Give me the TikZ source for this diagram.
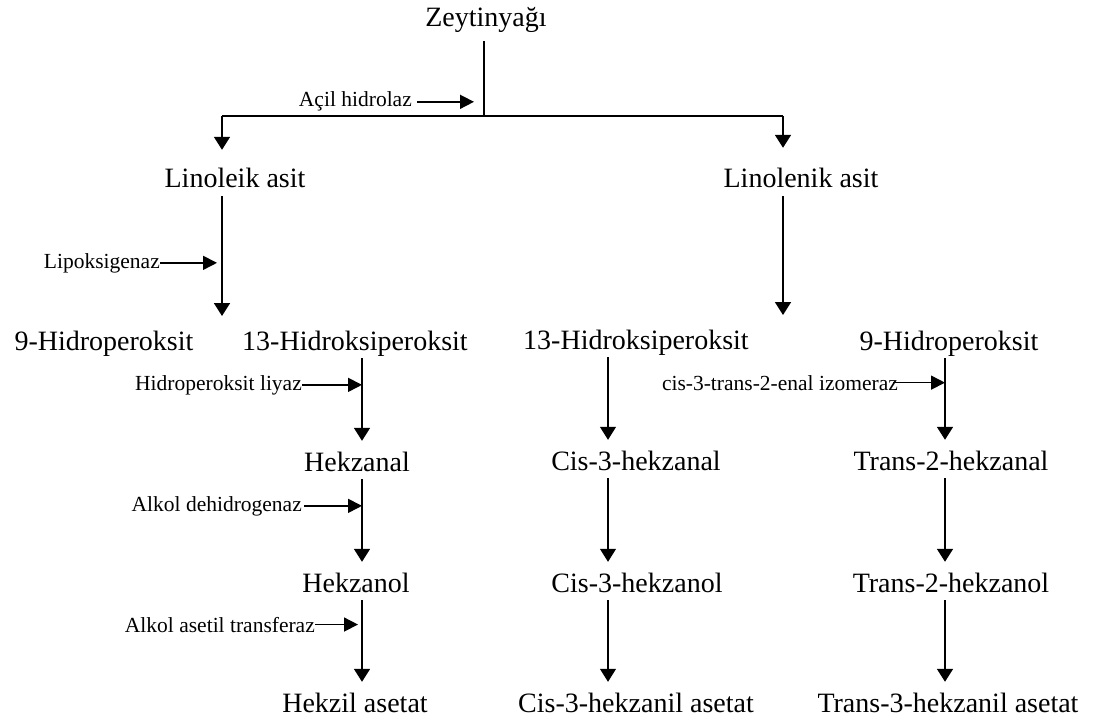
\documentclass[tikz,border=0pt]{standalone}
\usepackage{fontspec}
\setmainfont{Liberation Serif}
\usetikzlibrary{arrows.meta}
\tikzset{
	big/.style={anchor=base,inner sep=2pt,text height=28pt,text depth=6pt,font=\fontsize{28}{30}\selectfont},
	enz/.style={anchor=base east,inner sep=0pt,font=\fontsize{21.5}{24}\selectfont},
	arr/.style={-{Triangle[length=13pt,width=16pt]},line width=1.8pt},
	thinarr/.style={arr,line width=1.2pt},
	side/.style={-{Triangle[length=14pt,width=14pt]},line width=1.6pt}
}

\begin{document}
\begin{tikzpicture}[x=1pt,y=-1pt]
	\useasboundingbox (0,0) rectangle (1095,722);

	\node[big] (zeytin) at (486,27) {Zeytinyağı};
	\node[big] (linoleik) at (235,188) {Linoleik asit};
	\node[big] (linolenik) at (801,188) {Linolenik asit};
	\node[big] (hidro9a) at (104,350) {9-Hidroperoksit};
	\node[big] (hidro13a) at (355,350) {13-Hidroksiperoksit};
	\node[big] (hidro13b) at (636,349) {13-Hidroksiperoksit};
	\node[big] (hidro9b) at (949,350) {9-Hidroperoksit};
	\node[big] (hekzanal) at (357,471) {Hekzanal};
	\node[big] (cisal) at (636,470) {Cis-3-hekzanal};
	\node[big] (transal) at (951,470) {Trans-2-hekzanal};
	\node[big] (hekzanol) at (356,592) {Hekzanol};
	\node[big] (cisol) at (637,592) {Cis-3-hekzanol};
	\node[big] (transol) at (951,592) {Trans-2-hekzanol};
	\node[big] (hekzil) at (355,712) {Hekzil asetat};
	\node[big] (cisasetat) at (636,712) {Cis-3-hekzanil asetat};
	\node[big] (transasetat) at (948,712) {Trans-3-hekzanil asetat};

	% enzimler
	\node[enz] (acil) at (412,107) {Açil hidrolaz};
	\node[enz] (lipo) at (160,268) {Lipoksigenaz};
	\node[enz] (liyaz) at (302,390) {Hidroperoksit liyaz};
	\node[enz] (izom) at (898,390) {cis-3-trans-2-enal izomeraz};
	\node[enz] (dehid) at (302,511) {Alkol dehidrogenaz};
	\node[enz] (asetil) at (315,632) {Alkol asetil transferaz};

	\coordinate (split) at (484,116);
	\coordinate (lft) at (222,116);
	\coordinate (rgt) at (783,116);
	\coordinate (lnlend) at (222,316);
	\coordinate (lnnend) at (783,315);
	\coordinate (colA) at (362,0);
	\coordinate (colB) at (608,0);
	\coordinate (colC) at (945,0);

	\draw[line width=1.8pt,shorten <=6pt] (zeytin.south -| split) -- (split);
	\draw[line width=1.8pt] (lft) -- (rgt);
	\draw[arr,shorten >=8pt] (lft) -- (lft |- linoleik.north);
	\draw[arr,shorten >=10pt] (rgt) -- (rgt |- linolenik.north);
	\draw[arr] (linoleik.south -| lnlend) -- (lnlend);
	\draw[arr] (linolenik.south -| lnnend) -- (lnnend);

	\foreach \a/\b in {hidro13a/hekzanal,hekzanal/hekzanol,hekzanol/hekzil}
		\draw[arr] (\a.south -| colA) -- (\b.north -| colA);
	\foreach \a/\b in {hidro13b/cisal,cisal/cisol,cisol/cisasetat}
		\draw[thinarr] (\a.south -| colB) -- (\b.north -| colB);
	\foreach \a/\b in {hidro9b/transal,transal/transol,transol/transasetat}
		\draw[arr] (\a.south -| colC) -- (\b.north -| colC);

	\draw[side,shorten <=5pt,shorten >=10pt] (acil.east) -- (acil.east -| split);
	\draw[side,shorten >=5pt] (lipo.east) -- (lipo.east -| lnlend);
	\draw[side] (liyaz.east) -- (liyaz.east -| colA);
	\draw[side,shorten <=-5pt] (izom.east) -- (izom.east -| colC);
	\draw[side,shorten <=2pt] (dehid.east) -- (dehid.east -| colA);
	\draw[side,shorten >=4pt] (asetil.east) -- (asetil.east -| colA);
\end{tikzpicture}
\end{document}
